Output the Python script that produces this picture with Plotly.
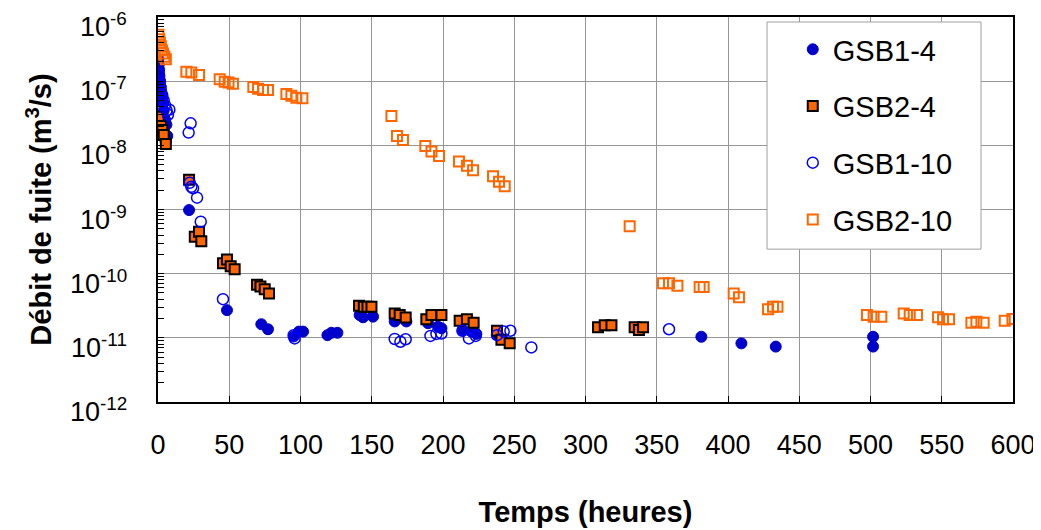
import math
import plotly.graph_objects as go

# ---- data ----
gsb1_4_x = [0.2, 0.5, 0.8, 1.0, 1.5, 2.0, 2.5, 3.0, 3.5, 4.0, 5.0, 5.4, 5.9, 6.5,
            21.8, 48.4, 72.5, 77.2, 95.2, 98.9, 101.8, 118.9, 121.7, 125.9,
            141.5, 143.9, 150.9, 166.1, 174.3, 189.5, 196.5, 198.9, 214.0, 219.9,
            223.4, 238.6, 381.3, 409.4, 433.5, 501.8, 501.8]
gsb1_4_y = [2.2e-7, 1.8e-7, 1.5e-7, 1.2e-7, 1.0e-7, 8e-8, 6.5e-8, 5.5e-8, 4.5e-8, 3.5e-8,
            2.5e-8, 1.15e-8, 2.1e-8, 1.4e-8,
            9.8e-10, 2.7e-11, 1.63e-11, 1.36e-11, 1.05e-11, 1.25e-11, 1.25e-11, 1.1e-11,
            1.2e-11, 1.2e-11, 2.27e-11, 2.09e-11, 2.14e-11, 1.8e-11, 1.8e-11, 1.69e-11,
            1.49e-11, 1.41e-11, 1.32e-11, 1.25e-11, 1.15e-11, 1.1e-11, 1.04e-11, 8.2e-12,
            7.3e-12, 1.04e-11, 7.3e-12]

gsb2_4_x = [0.5, 2.0, 3.0, 4.0, 5.5, 21.8, 25.8, 28.8, 30.4, 45.6, 48.4, 51.0, 53.8,
            69.5, 71.9, 74.9, 77.9, 141.1, 144.4, 147.0, 149.8, 166.1, 169.6, 173.8,
            188.3, 191.9, 198.9, 211.7, 216.8, 221.5, 237.9, 241.0, 246.8,
            308.8, 313.5, 318.2, 334.5, 337.5, 340.4]
gsb2_4_y = [2.8e-8, 2.0e-8, 1.73e-8, 1.45e-8, 1.05e-8, 2.9e-9, 3.77e-10, 4.5e-10, 3.2e-10,
            1.45e-10, 1.67e-10, 1.3e-10, 1.17e-10, 6.7e-11, 6.3e-11, 5.7e-11, 4.9e-11,
            3.16e-11, 3.05e-11, 3.05e-11, 3.05e-11, 2.4e-11, 2.27e-11, 2.08e-11,
            1.95e-11, 2.27e-11, 2.27e-11, 1.85e-11, 1.95e-11, 1.72e-11, 1.29e-11, 9.3e-12,
            8.2e-12, 1.46e-11, 1.57e-11, 1.57e-11, 1.46e-11, 1.32e-11, 1.46e-11]

gsb1_10_x = [0.5, 1.0, 1.5, 2.0, 3.0, 4.0, 5.0, 6.0, 7.0, 8.0, 21.5, 22.9, 22.2, 23.4,
             24.6, 27.4, 30.0, 45.6, 95.2, 95.9, 166.1, 170.1, 173.8, 191.2, 195.4,
             198.9, 213.6, 218.2, 223.0, 237.9, 242.6, 247.3, 262.0, 358.6]
gsb1_10_y = [1.3e-7, 1.0e-7, 8.5e-8, 7e-8, 6e-8, 5e-8, 4.2e-8, 3.5e-8, 3e-8, 3.6e-8,
             1.58e-8, 2.2e-8, 2.6e-9, 2.26e-9, 2.14e-9, 1.53e-9, 6.45e-10, 4e-11,
             1.1e-11, 9.8e-12, 9.6e-12, 8.7e-12, 9.5e-12, 1.07e-11, 1.15e-11, 1.17e-11,
             1.29e-11, 9.8e-12, 1.07e-11, 1.1e-11, 1.25e-11, 1.29e-11, 7.1e-12, 1.36e-11]

gsb2_10_x = [0.3, 0.8, 1.3, 2.0, 2.8, 3.5, 4.5, 5.5, 19.9, 23.4, 28.8, 43.3, 46.8, 49.5,
             52.6, 66.9, 70.2, 73.7, 77.2, 90.1, 93.6, 97.1, 101.3, 163.8, 167.7, 171.9,
             187.6, 191.9, 197.2, 211.2, 216.8, 221.1, 235.1, 239.3, 243.3, 331.0,
             354.4, 358.6, 364.5, 380.1, 382.9, 404.0, 407.7, 428.1, 431.6, 434.7,
             497.5, 502.2, 507.6, 523.3, 527.5, 532.6, 547.4, 550.9, 555.1,
             570.8, 574.3, 579.4, 594.2, 599.6]
gsb2_10_y = [5.3e-7, 4.5e-7, 4e-7, 3.5e-7, 3e-7, 2.7e-7, 2.4e-7, 2.2e-7, 1.4e-7, 1.36e-7,
             1.25e-7, 1.07e-7, 9.8e-8, 9.5e-8, 9.1e-8, 8.1e-8, 7.6e-8, 7.3e-8, 7.3e-8,
             6.3e-8, 5.9e-8, 5.5e-8, 5.4e-8, 2.86e-8, 1.4e-8, 1.21e-8, 9.8e-9, 8e-9,
             6.8e-9, 5.6e-9, 4.8e-9, 4.1e-9, 3.3e-9, 2.7e-9, 2.3e-9, 5.5e-10,
             7.1e-11, 7.1e-11, 6.5e-11, 6.2e-11, 6.2e-11, 4.9e-11, 4.3e-11, 2.8e-11,
             3.05e-11, 3.05e-11, 2.27e-11, 2.14e-11, 2.14e-11, 2.4e-11, 2.27e-11,
             2.27e-11, 2.1e-11, 1.95e-11, 1.95e-11, 1.72e-11, 1.78e-11, 1.72e-11,
             1.85e-11, 1.97e-11]

x_ticks = [0, 50, 100, 150, 200, 250, 300, 350, 400, 450, 500, 550, 600]
y_tick_vals = [1e-12, 1e-11, 1e-10, 1e-9, 1e-8, 1e-7, 1e-6]
y_tick_text = ["10<sup>-12</sup>", "10<sup>-11</sup>", "10<sup>-10</sup>", "10<sup>-9</sup>",
               "10<sup>-8</sup>", "10<sup>-7</sup>", "10<sup>-6</sup>"]
y_minor_vals = [m * d for d in y_tick_vals[:-1] for m in range(2, 10)]

FONT = "Liberation Sans, Arial, sans-serif"
BLUE_DARK = "#0000CC"
BLUE = "#0000FF"
ORANGE = "#FF6600"

fig = go.Figure()
fig.add_trace(go.Scatter(x=gsb1_4_x, y=gsb1_4_y, mode="markers", name="GSB1-4",
                         legendgroup="a",
                         marker=dict(symbol="circle", size=11, color=BLUE_DARK,
                                     line=dict(color=BLUE_DARK, width=1))))
fig.add_trace(go.Scatter(x=gsb2_4_x, y=gsb2_4_y, mode="markers", name="GSB2-4",
                         legendgroup="b",
                         marker=dict(symbol="square", size=10, color=ORANGE,
                                     line=dict(color="black", width=2))))
fig.add_trace(go.Scatter(x=gsb1_10_x, y=gsb1_10_y, mode="markers", name="GSB1-10",
                         legendgroup="c",
                         marker=dict(symbol="circle-open", size=11, color=BLUE,
                                     line=dict(color=BLUE, width=1.5))))
fig.add_trace(go.Scatter(x=gsb2_10_x, y=gsb2_10_y, mode="markers", name="GSB2-10",
                         legendgroup="d",
                         marker=dict(symbol="square-open", size=10, color=ORANGE,
                                     line=dict(color=ORANGE, width=2))))

# y tick labels placed slightly below their gridlines, as in the reference
# (annotation positions on a log axis are given as log10 of the value)
for v, t in zip(y_tick_vals, y_tick_text):
    fig.add_annotation(x=0, xref="paper", y=math.log10(v), yref="y", text=t,
                       showarrow=False, xanchor="right", yanchor="middle",
                       xshift=-29, yshift=-8,
                       font=dict(family=FONT, size=27, color="black"))

# legend frame (opaque white box with grey border, covering the gridlines)
fig.add_shape(type="rect", xref="paper", yref="paper",
              x0=0.7123, x1=0.9626, y0=0.397, y1=0.987, layer="above",
              fillcolor="white", line=dict(color="#A0A0A0", width=1))

# page body has an 8px default margin, so the figure is sized to fit the window
fig.update_layout(
    width=1033, height=522,
    margin=dict(l=150, r=28, t=9, b=128),
    paper_bgcolor="white", plot_bgcolor="white",
    font=dict(family=FONT, size=27, color="black"),
    showlegend=True,
    legend=dict(x=0.712, y=0.982, xanchor="left", yanchor="top",
                bgcolor="rgba(0,0,0,0)", borderwidth=0,
                font=dict(family=FONT, size=29, color="black"),
                tracegroupgap=16, indentation=26,
                itemsizing="trace"),
)
fig.update_xaxes(range=[0, 600], tickvals=x_ticks, ticks="inside", ticklen=6,
                 tickcolor="black", showgrid=True, gridcolor="#969696", gridwidth=1,
                 showline=True, linecolor="black", linewidth=2, mirror=True,
                 zeroline=False, tickfont=dict(size=27), automargin=False,
                 ticklabelstandoff=18,
                 title=dict(text="<b>Temps (heures)</b>", font=dict(size=29), standoff=42))
fig.update_yaxes(type="log", range=[-12, -6], tickvals=y_tick_vals, showticklabels=False,
                 ticks="inside", ticklen=6, tickcolor="black",
                 minor=dict(ticks="inside", ticklen=6, tickcolor="black",
                            tickvals=y_minor_vals, showgrid=False),
                 showgrid=True, gridcolor="#969696", gridwidth=1,
                 showline=True, linecolor="black", linewidth=2, mirror=True,
                 zeroline=False, automargin=False,
                 title=dict(text="<b>Débit de fuite (m<sup>3</sup>/s)</b>", font=dict(size=29),
                            standoff=96))

fig.write_html("out.html")
